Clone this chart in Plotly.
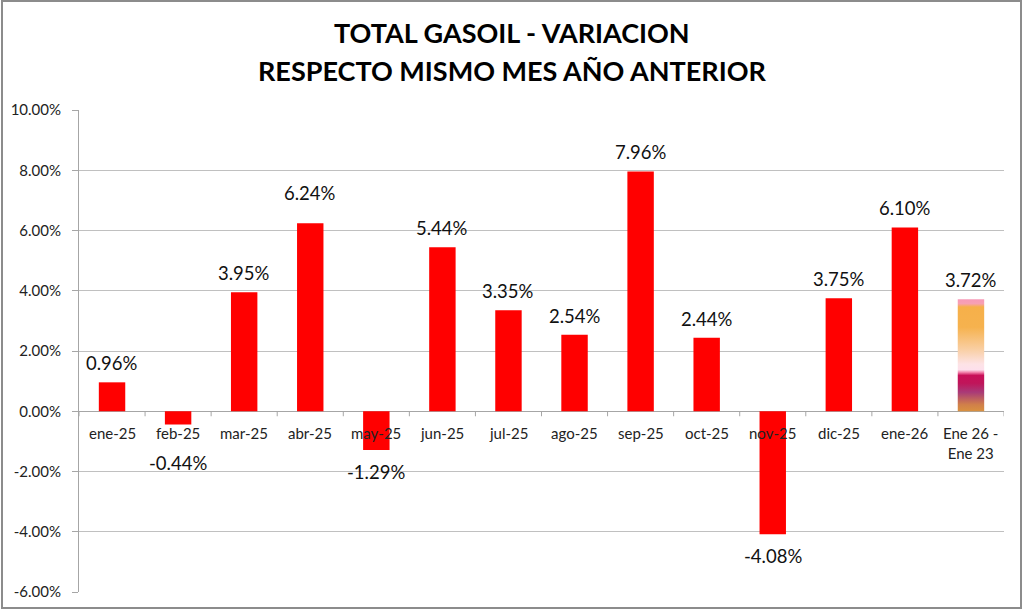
import plotly.graph_objects as go

categories = ["ene-25", "feb-25", "mar-25", "abr-25", "may-25", "jun-25", "jul-25",
              "ago-25", "sep-25", "oct-25", "nov-25", "dic-25", "ene-26", "Ene 26 -<br>Ene 23"]
values = [0.96, -0.44, 3.95, 6.24, -1.29, 5.44, 3.35, 2.54, 7.96, 2.44, -4.08, 3.75, 6.10, 3.72]
y_ticks = [-6, -4, -2, 0, 2, 4, 6, 8, 10]
title_lines = ["TOTAL GASOIL - VARIACION", "RESPECTO MISMO MES AÑO ANTERIOR"]

FONT = "Lato, 'Open Sans', sans-serif"
W, H = 1024, 612
ML, MR, MT, MB = 79, 20, 110, 20
PW, PH = W - ML - MR, H - MT - MB
BW = 0.4

n = len(categories)
idx = list(range(n))
main_idx = idx[:-1]

fig = go.Figure()
fig.add_trace(go.Bar(x=main_idx, y=values[:-1], width=BW, marker=dict(color="#ff0000", line=dict(width=0)),
                     hoverinfo="skip", showlegend=False))

# gradient bar for last category
xi = idx[-1]
v = values[-1]
fig.add_trace(go.Scatter(
    x=[xi - BW / 2, xi + BW / 2, xi + BW / 2, xi - BW / 2, xi - BW / 2],
    y=[0, 0, v, v, 0], mode="lines", line=dict(width=0), fill="toself",
    fillgradient=dict(type="vertical", colorscale=[
        [0.0, "#d9913f"], [0.06, "#d07f4a"], [0.17, "#a93a78"], [0.25, "#c0155a"],
        [0.32, "#c80f58"], [0.345, "#f07aa5"], [0.37, "#fde0ec"], [0.42, "#fde3e6"],
        [0.55, "#f9cfa4"], [0.75, "#f6b24e"], [0.93, "#f6b04a"], [0.96, "#f7a0b3"],
        [1.0, "#f79ab8"]]),
    hoverinfo="skip", showlegend=False))

annotations = []
# title lines
for line, ypx in zip(title_lines, [33, 70]):
    annotations.append(dict(x=(W / 2 - ML) / PW, y=(H - MB - ypx) / PH, xref="paper", yref="paper",
                            text=f"<b>{line}</b>", showarrow=False, xanchor="center", yanchor="middle",
                            font=dict(family=FONT, size=27, color="#000")))
# category labels at the zero line
for i, c in zip(idx, categories):
    annotations.append(dict(x=i, y=0, xref="x", yref="y", text=c, showarrow=False,
                            yanchor="top", yshift=-11, font=dict(family=FONT, size=15, color="#222"),
                            align="center"))
# data labels
label_nudge = {3: 11, 1: 16}
for i, val in zip(idx, values):
    extra = label_nudge.get(i, 0)
    if val >= 0:
        ys = 19 + extra
    else:
        ys = -(22 + extra)
    annotations.append(dict(x=i, y=val, xref="x", yref="y", text=f"{val:.2f}%", showarrow=False,
                            yanchor="middle", yshift=ys, font=dict(family=FONT, size=18.5, color="#111")))

shapes = []
for b in range(n + 1):
    shapes.append(dict(type="line", xref="x", yref="y", x0=b - 0.5, x1=b - 0.5,
                       ysizemode="pixel", yanchor=0, y0=0, y1=-5,
                       line=dict(color="#a6a6a6", width=1)))
# chart border
shapes.append(dict(type="rect", xref="paper", yref="paper",
                   x0=(2 - ML) / PW, x1=(W - 3 - ML) / PW,
                   y0=-(MB - 4) / PH, y1=(PH + MT - 1) / PH,
                   line=dict(color="#8c8c8c", width=2), fillcolor="rgba(0,0,0,0)", layer="below"))

fig.update_layout(
    width=W, height=H, margin=dict(l=ML, r=MR, t=MT, b=MB),
    paper_bgcolor="white", plot_bgcolor="white",
    xaxis=dict(range=[-0.5, n - 0.5], showticklabels=False, showgrid=False, zeroline=False,
               showline=False, ticks="", fixedrange=True),
    yaxis=dict(range=[-6, 10], tickvals=y_ticks, ticktext=[f"{t:.2f}%" for t in y_ticks],
               showgrid=True, gridcolor="#c0c0c0", gridwidth=1,
               zeroline=True, zerolinecolor="#a6a6a6", zerolinewidth=1,
               showline=True, linecolor="#a6a6a6", linewidth=1,
               ticks="outside", ticklen=6, tickcolor="#a6a6a6", ticklabelstandoff=8,
               tickfont=dict(family=FONT, size=15, color="#222"), fixedrange=True),
    annotations=annotations, shapes=shapes, bargap=0.6,
)

fig.write_html("out.html", config={"displayModeBar": False},
               post_script="document.body.style.margin='0';document.body.style.overflow='hidden';")
